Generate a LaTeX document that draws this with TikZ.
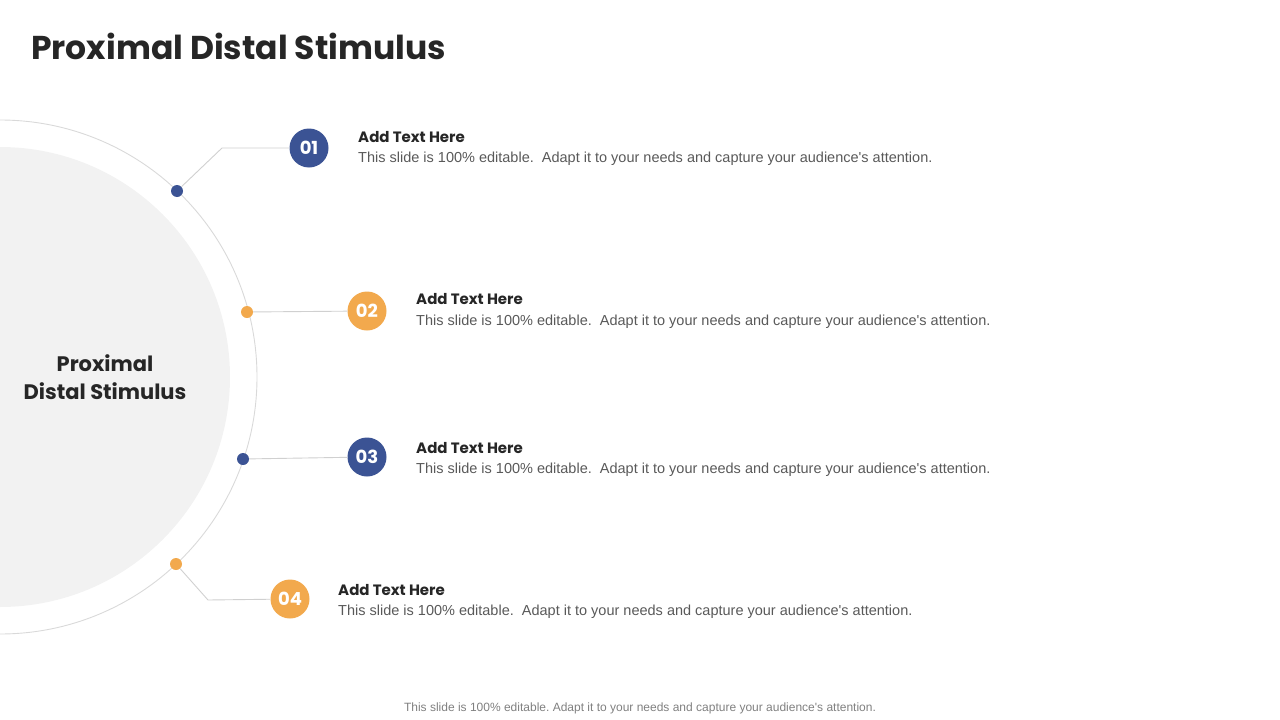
\documentclass[tikz,border=0pt]{standalone}
\usepackage{fontspec}
\setmainfont{Liberation Sans}
\newfontfamily\headfont{Poppins}
\definecolor{navy}{RGB}{59,83,148}
\definecolor{amber}{RGB}{242,169,77}
\definecolor{darktext}{RGB}{38,38,38}
\definecolor{bodytext}{RGB}{89,89,89}
\definecolor{foottext}{RGB}{128,128,128}
\definecolor{ringgray}{RGB}{217,217,217}
\definecolor{fillgray}{RGB}{242,242,242}
\definecolor{linegray}{RGB}{208,208,208}
\frenchspacing
\tikzset{
  dotb/.style={circle,fill=navy,inner sep=0pt,minimum size=12pt},
  doto/.style={circle,fill=amber,inner sep=0pt,minimum size=12pt},
  numb/.style={circle,fill=navy,inner sep=0pt,minimum size=39pt,text=white,font=\headfont\bfseries\fontsize{18}{18}\selectfont},
  numo/.style={circle,fill=amber,inner sep=0pt,minimum size=39pt,text=white,font=\headfont\bfseries\fontsize{18}{18}\selectfont},
  conn/.style={draw=linegray,line width=0.9pt},
  headtxt/.style={anchor=base west,inner sep=0pt,text=darktext,font=\headfont\bfseries\fontsize{15}{17}\selectfont},
  bodytxt/.style={anchor=base west,inner sep=0pt,text=bodytext,font=\fontsize{14.5}{17}\selectfont},
}
\newcommand{\bodyline}{This slide is 100\% editable.\ \ Adapt it to your needs and capture your audience\textquotesingle s attention.}
\begin{document}
\begin{tikzpicture}[x=1pt,y=-1pt]
\useasboundingbox (0,0) rectangle (1280,720);
% title
\node[anchor=base west,inner sep=0pt,text=darktext,font=\headfont\bfseries\fontsize{33}{40}\selectfont] (title) at (31,59) {Proximal Distal Stimulus};
% circles
\fill[fillgray] (0,377) circle (230);
\draw[ringgray,line width=0.9pt] (0,377) circle (257);
\node[align=center,text=darktext,font=\headfont\bfseries\fontsize{21}{28}\selectfont] (center) at (105,377) {Proximal\\Distal Stimulus};
% item 1
\node[dotb] (d1) at (177,191) {};
\coordinate (b1) at (222,148);
\node[numb] (n1) at (309,148) {01};
\draw[conn] (d1) -- (b1) -- (n1);
\node[headtxt] (h1) at (358,142) {Add Text Here};
\node[bodytxt] (t1) at (358,162) {\bodyline};
% item 2
\node[doto] (d2) at (247,312) {};
\node[numo] (n2) at (367,311) {02};
\draw[conn] (d2) -- (n2);
\node[headtxt] (h2) at (416,304) {Add Text Here};
\node[bodytxt] (t2) at (416,325) {\bodyline};
% item 3
\node[dotb] (d3) at (243,459) {};
\node[numb] (n3) at (367,457) {03};
\draw[conn] (d3) -- (n3);
\node[headtxt] (h3) at (416,453) {Add Text Here};
\node[bodytxt] (t3) at (416,473) {\bodyline};
% item 4
\node[doto] (d4) at (176,564) {};
\coordinate (b4) at (208,600);
\node[numo] (n4) at (290,599) {04};
\draw[conn] (d4) -- (b4) -- (n4);
\node[headtxt] (h4) at (338,595) {Add Text Here};
\node[bodytxt] (t4) at (338,615) {\bodyline};
% footer
\node[anchor=base,inner sep=0pt,text=foottext,font=\fontsize{12}{14}\selectfont] (foot) at (640,711) {This slide is 100\% editable. Adapt it to your needs and capture your audience\textquotesingle s attention.};
\end{tikzpicture}
\end{document}
